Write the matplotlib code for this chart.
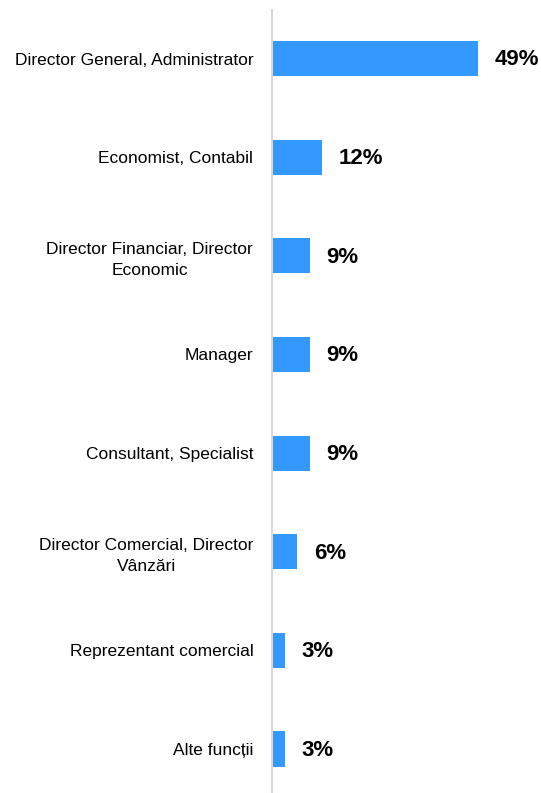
import matplotlib.pyplot as plt
from matplotlib import font_manager

# categories and shares (%)
categories = [
    "Director General, Administrator",
    "Economist, Contabil",
    "Director Financiar, Director\nEconomic",
    "Manager",
    "Consultant, Specialist",
    "Director Comercial, Director\nVânzări",
    "Reprezentant comercial",
    "Alte funcții",
]
values = [49, 12, 9, 9, 9, 6, 3, 3]
value_labels = ["49%", "12%", "9%", "9%", "9%", "6%", "3%", "3%"]

names = {f.name for f in font_manager.fontManager.ttflist}
narrow = "Liberation Sans Narrow" if "Liberation Sans Narrow" in names else "Liberation Sans"

plt.rcParams['font.family'] = ['Liberation Sans', 'DejaVu Sans']

fig = plt.figure(figsize=(5.41, 7.93), dpi=100)
ax = fig.add_axes([272 / 541, 0, 269 / 541, 1 - 10 / 793])

pos = list(range(len(categories)))
ax.barh(pos, values, height=0.355, color='#3399FF')

for p, v, t in zip(pos, values, value_labels):
    ax.annotate(t, (v, p), xytext=(12, -1), textcoords='offset points',
                ha='left', va='center', fontsize=16, fontweight='bold',
                family=[narrow, 'DejaVu Sans'], color='black')

ax.set_yticks(pos)
ax.set_yticklabels(categories, fontsize=12.5)
for lab in ax.get_yticklabels():
    lab.set_multialignment('center')
    lab.set_linespacing(1.5)
ax.tick_params(axis='y', length=0, pad=13.5)
ax.set_xticks([])
ax.set_xlim(0, 64)
ax.set_ylim(7.446, -0.492)

for s in ['top', 'right', 'bottom']:
    ax.spines[s].set_visible(False)
ax.spines['left'].set_color('#d9d9d9')
ax.spines['left'].set_linewidth(1.5)

fig.savefig('out.png', dpi=100)
